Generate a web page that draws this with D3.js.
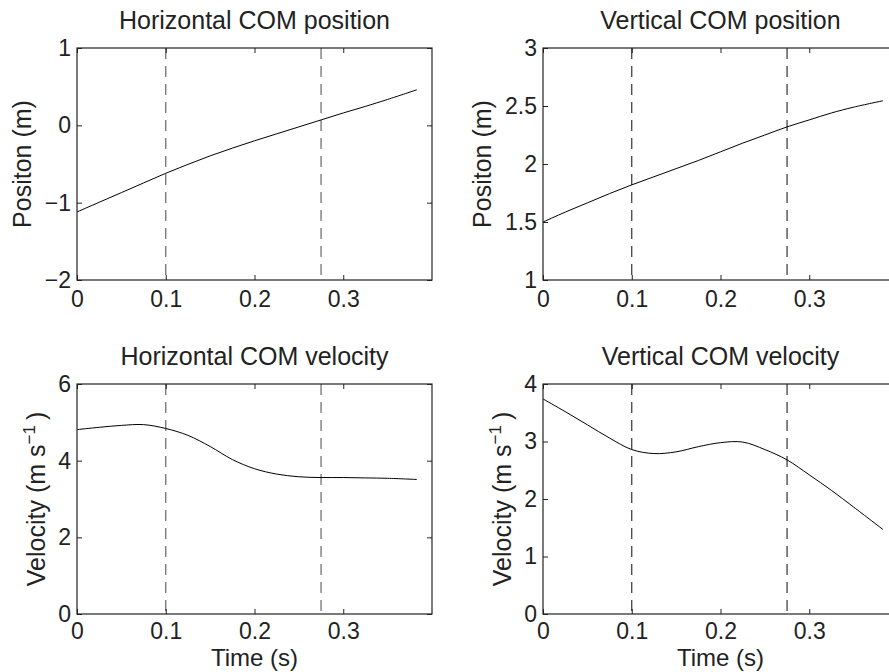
<!DOCTYPE html>
<html>
<head>
<meta charset="utf-8">
<script src="https://cdn.jsdelivr.net/npm/d3@7"></script>
<style>
  html, body { margin: 0; padding: 0; background: #fff; overflow: hidden; }
  svg { display: block; }
  text { font-family: "Liberation Sans", Arial, Helvetica, sans-serif; fill: #222; }
</style>
</head>
<body>
<svg id="chart" width="889" height="672"></svg>
<script>
// ---------------- data ----------------
const timeValues = [0, 0.025, 0.05, 0.075, 0.1, 0.125, 0.15, 0.175, 0.2, 0.225, 0.25, 0.275, 0.3, 0.325, 0.35, 0.383];
const horizontalPosition = [-1.12, -0.995, -0.87, -0.745, -0.62, -0.505, -0.395, -0.295, -0.20, -0.11, -0.02, 0.07, 0.16, 0.245, 0.335, 0.46];
const verticalPosition = [1.50, 1.585, 1.665, 1.745, 1.82, 1.89, 1.96, 2.03, 2.105, 2.18, 2.25, 2.32, 2.38, 2.44, 2.49, 2.545];
const horizontalVelocity = [4.81, 4.87, 4.92, 4.94, 4.84, 4.66, 4.37, 4.03, 3.79, 3.65, 3.58, 3.56, 3.56, 3.55, 3.54, 3.51];
const verticalVelocity = [3.74, 3.52, 3.29, 3.06, 2.86, 2.79, 2.82, 2.91, 2.98, 2.99, 2.86, 2.68, 2.42, 2.15, 1.86, 1.47];
const eventTimes = [0.1, 0.275];
const xTicks = [0, 0.1, 0.2, 0.3];
const xDomain = [0, 0.4];
const titles = ["Horizontal COM position", "Vertical COM position", "Horizontal COM velocity", "Vertical COM velocity"];
const yTicksHP = [-2, -1, 0, 1];
const yTicksVP = [1, 1.5, 2, 2.5, 3];
const yTicksHV = [0, 2, 4, 6];
const yTicksVV = [0, 1, 2, 3, 4];

// ---------------- layout ----------------
const panels = [
  { title: titles[0], values: horizontalPosition, yTicks: yTicksHP, yDomain: [-2, 1], left: 77, top: 48, bottom: 280, ylab: "pos", ylabX: 31, xlab: false, pad: 11, dash: "#666" },
  { title: titles[1], values: verticalPosition, yTicks: yTicksVP, yDomain: [1, 3], left: 543, top: 48, bottom: 280, ylab: "pos", ylabX: 491, xlab: false, pad: 11, dash: "#333" },
  { title: titles[2], values: horizontalVelocity, yTicks: yTicksHV, yDomain: [0, 6], left: 77, top: 384, bottom: 614, ylab: "vel", ylabX: 45, xlab: true, pad: 9, dash: "#666" },
  { title: titles[3], values: verticalVelocity, yTicks: yTicksVV, yDomain: [0, 4], left: 543, top: 384, bottom: 614, ylab: "vel", ylabX: 511, xlab: true, pad: 9, dash: "#333" }
];
const plotW = 355;
const axisColor = "#222";
const fmt = d => (d < 0 ? "\u2212" + Math.abs(d) : String(d));

const svg = d3.select("#chart");

panels.forEach(p => {
  const x = d3.scaleLinear().domain(xDomain).range([p.left, p.left + plotW]);
  const y = d3.scaleLinear().domain(p.yDomain).range([p.bottom, p.top]);
  const g = svg.append("g");

  // event dashed lines
  g.selectAll("line.ev").data(eventTimes).join("line")
    .attr("class", "ev")
    .attr("x1", d => x(d)).attr("x2", d => x(d))
    .attr("y1", p.top).attr("y2", p.bottom)
    .attr("stroke", p.dash).attr("stroke-width", 1.2)
    .attr("stroke-dasharray", "11,7");

  // data curve
  const line = d3.line().x((d, i) => x(timeValues[i])).y(d => y(d)).curve(d3.curveCatmullRom.alpha(0.5));
  g.append("path").datum(p.values)
    .attr("d", line).attr("fill", "none").attr("stroke", "#000").attr("stroke-width", 1);

  // axes
  const styleAxis = sel => {
    sel.selectAll(".domain").remove();
    sel.selectAll(".tick line").attr("stroke", axisColor).attr("stroke-width", 1);
    sel.selectAll(".tick text").attr("font-size", 23).attr("fill", "#222")
      .attr("font-family", "'Liberation Sans', Arial, sans-serif");
  };
  g.append("g").attr("transform", `translate(0,${p.bottom})`)
    .call(d3.axisBottom(x).tickValues(xTicks).tickFormat(fmt).tickSize(-5).tickPadding(p.pad))
    .call(styleAxis);
  g.append("g").attr("transform", `translate(0,${p.top})`)
    .call(d3.axisTop(x).tickValues(xTicks).tickFormat("").tickSize(-5))
    .call(styleAxis);
  g.append("g").attr("transform", `translate(${p.left},0)`)
    .call(d3.axisLeft(y).tickValues(p.yTicks).tickFormat(fmt).tickSize(-5).tickPadding(6))
    .call(styleAxis);
  g.append("g").attr("transform", `translate(${p.left + plotW},0)`)
    .call(d3.axisRight(y).tickValues(p.yTicks).tickFormat("").tickSize(-5))
    .call(styleAxis);

  // box
  g.append("rect").attr("x", p.left).attr("y", p.top)
    .attr("width", plotW).attr("height", p.bottom - p.top)
    .attr("fill", "none").attr("stroke", axisColor).attr("stroke-width", 1.2);

  // title
  g.append("text").attr("x", p.left + plotW / 2).attr("y", p.top - 19)
    .attr("text-anchor", "middle").attr("font-size", 25).text(p.title);

  // y label
  const cy = (p.top + p.bottom) / 2;
  const yl = g.append("text")
    .attr("transform", `translate(${p.ylabX},${cy}) rotate(-90)`)
    .attr("text-anchor", "middle").attr("font-size", 25);
  if (p.ylab === "pos") {
    yl.text("Positon (m)");
  } else {
    yl.append("tspan").text("Velocity (m s");
    yl.append("tspan").attr("font-size", 17).attr("dy", -10).text("\u22121");
    yl.append("tspan").attr("dy", 10).text("\u2009)");
  }

  // x label
  if (p.xlab) {
    g.append("text").attr("x", p.left + plotW / 2).attr("y", 666)
      .attr("text-anchor", "middle").attr("font-size", 24).text("Time (s)");
  }
});
</script>
</body>
</html>
